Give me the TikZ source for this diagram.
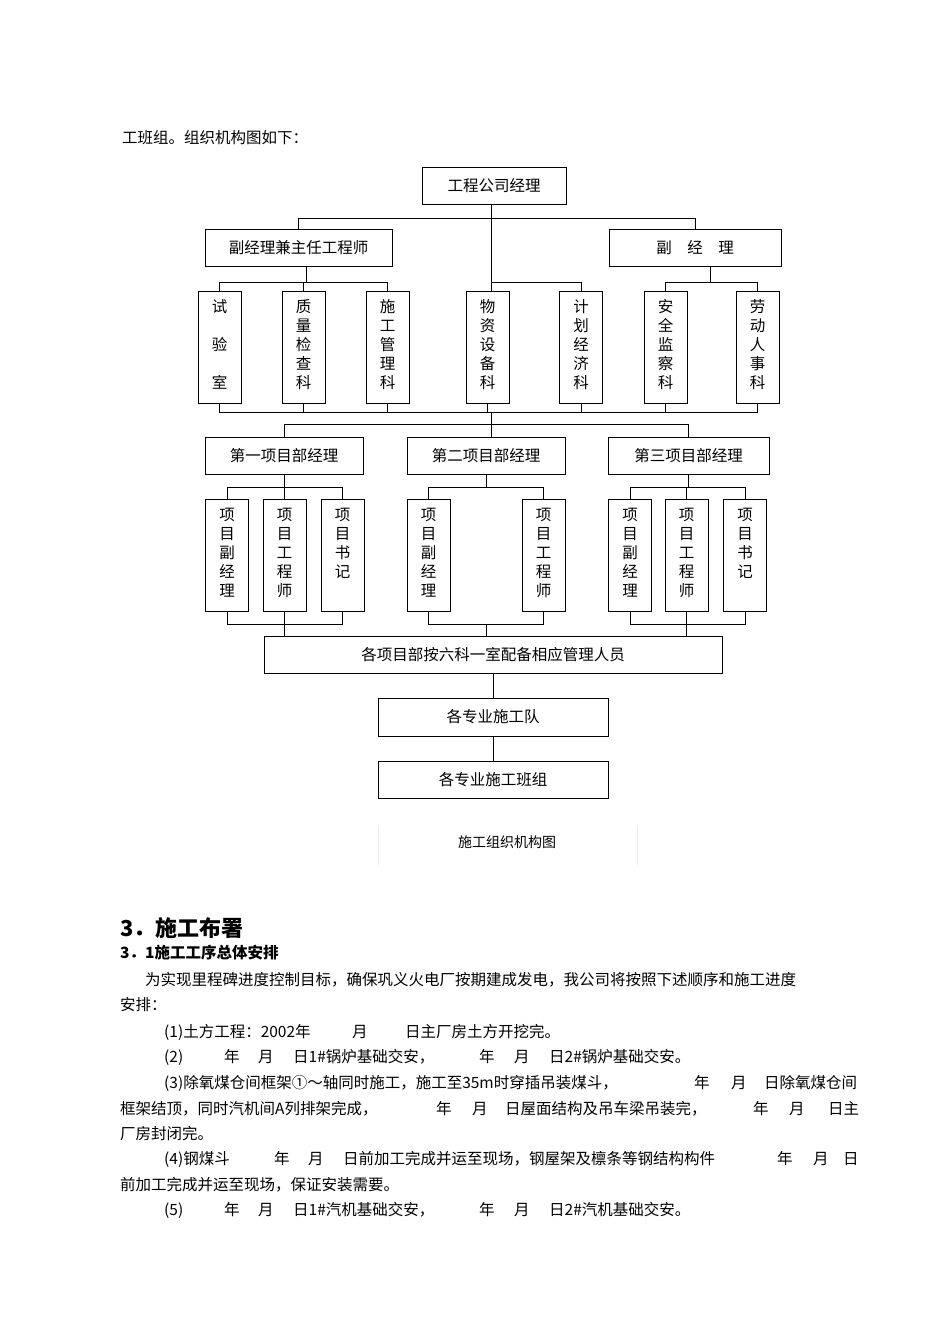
\documentclass[tikz,border=0pt]{standalone}
\usepackage{fontspec}
\setmainfont{Noto Sans CJK SC}
\begin{document}
\begin{tikzpicture}[x=1pt,y=-1pt,
  ln/.style={line width=1pt},
  box/.style={draw,line width=1pt,inner sep=0pt,font=\fontsize{15.5}{19}\selectfont},
  vbox/.style={draw,line width=1pt,inner sep=0pt,minimum width=43pt,minimum height=112pt},
  vtxt/.style={inner sep=0pt,align=center,font=\fontsize{15.5}{19}\selectfont},
  txt/.style={inner sep=0pt,anchor=base west,font=\fontsize{15.5}{18}\selectfont},
]
\useasboundingbox (0,0) rectangle (950,1344);
\newcommand\vb[4]{\node[vbox] (#1) at (#2,#3) {};\node[vtxt,anchor=north] (#1t) at ([yshift=-9pt]#1.north) {#4};}
\newcommand\tx[4]{\node[txt] (#1) at (#2,#3) {#4};}

\tx{intro}{122}{143}{工班组。组织机构图如下：}

% chart level 0-1
\node[box,minimum width=144pt,minimum height=37pt] (top) at (494,185.5) {工程公司经理};
\node[box,minimum width=187pt,minimum height=37pt] (vp1) at (298.5,247.5) {副经理兼主任工程师};
\node[box,minimum width=172pt,minimum height=37pt] (vp2) at (695,247.5) {副\hspace{1em}经\hspace{1em}理};

\vb{d1}{219.5}{347}{试\\~\\验\\~\\室}
\vb{d2}{303.5}{347}{质\\量\\检\\查\\科}
\vb{d3}{387.5}{347}{施\\工\\管\\理\\科}
\vb{d4}{487.5}{347}{物\\资\\设\\备\\科}
\vb{d5}{581}{347}{计\\划\\经\\济\\科}
\vb{d6}{665.5}{347}{安\\全\\监\\察\\科}
\vb{d7}{757.5}{347}{劳\\动\\人\\事\\科}

\coordinate (h0) at (491,218);
\draw[ln] (top.south -| h0) -- (h0 |- d4.north);
\draw[ln] (vp1.north) -- (vp1.north |- h0) -- (vp2.north |- h0) -- (vp2.north);
\coordinate (c1) at (306,282);
\coordinate (c2) at (710,282);
\draw[ln] (vp1.south -| c1) -- (c1);
\draw[ln] (d1.north) -- (d1.north |- c1) -- (d3.north |- c1) -- (d3.north);
\draw[ln] (d2.north) -- (d2.north |- c1);
\draw[ln] (vp2.south -| c2) -- (c2);
\draw[ln] (d6.north) -- (d6.north |- c2) -- (d7.north |- c2) -- (d7.north);
\draw[ln] (h0 |- c1) -- (d5.north |- c1) -- (d5.north);

% bottom of row 1
\coordinate (b1) at (491,412);
\draw[ln] (d1.south) -- (d1.south |- b1) -- (d7.south |- b1) -- (d7.south);
\foreach \n in {d2,d3,d4,d5,d6} \draw[ln] (\n.south) -- (\n.south |- b1);

% level 2
\node[box,minimum width=158pt,minimum height=37pt] (p1) at (284,455.5) {第一项目部经理};
\node[box,minimum width=158pt,minimum height=37pt] (p2) at (486,455.5) {第二项目部经理};
\node[box,minimum width=161pt,minimum height=37pt] (p3) at (688.5,455.5) {第三项目部经理};
\coordinate (b2) at (491,424);
\draw[ln] (b1) -- (b2 |- p2.north);
\draw[ln] (p1.north) -- (p1.north |- b2) -- (p3.north |- b2) -- (p3.north);

\vb{a1}{227}{555}{项\\目\\副\\经\\理}
\vb{a2}{284.5}{555}{项\\目\\工\\程\\师}
\vb{a3}{342.5}{555}{项\\目\\书\\记}
\vb{e1}{428.5}{555}{项\\目\\副\\经\\理}
\vb{e2}{543.5}{555}{项\\目\\工\\程\\师}
\vb{f1}{630}{555}{项\\目\\副\\经\\理}
\vb{f2}{686.5}{555}{项\\目\\工\\程\\师}
\vb{f3}{745}{555}{项\\目\\书\\记}

\coordinate (u) at (0,487);
\coordinate (w) at (0,624);
\draw[ln] (p1.south) -- (p1.south |- u);
\draw[ln] (a1.north) -- (a1.north |- u) -- (a3.north |- u) -- (a3.north);
\draw[ln] (a2.north) -- (a2.north |- u);
\draw[ln] (p2.south) -- (p2.south |- u);
\draw[ln] (e1.north) -- (e1.north |- u) -- (e2.north |- u) -- (e2.north);
\draw[ln] (p3.south) -- (p3.south |- u);
\draw[ln] (f1.north) -- (f1.north |- u) -- (f3.north |- u) -- (f3.north);
\draw[ln] (f2.north) -- (f2.north |- u);

\draw[ln] (a1.south) -- (a1.south |- w) -- (a3.south |- w) -- (a3.south);
\draw[ln] (e1.south) -- (e1.south |- w) -- (e2.south |- w) -- (e2.south);
\draw[ln] (f1.south) -- (f1.south |- w) -- (f3.south |- w) -- (f3.south);

\node[box,minimum width=458pt,minimum height=37pt] (all) at (493,654.5) {各项目部按六科一室配备相应管理人员};
\draw[ln] (a2.south) -- (a2.south |- all.north);
\draw[ln] (p2.south |- w) -- (p2.south |- all.north);
\draw[ln] (f2.south) -- (f2.south |- all.north);
\node[box,minimum width=230pt,minimum height=38pt] (team) at (493,717) {各专业施工队};
\node[box,minimum width=230pt,minimum height=37pt] (grp) at (493,779.5) {各专业施工班组};
\draw[ln] (all.south) -- (team.north);
\draw[ln] (team.south) -- (grp.north);

% caption
\node[inner sep=0pt,font=\fontsize{14}{16}\selectfont] (cap) at (507,842) {施工组织机构图};
\draw[gray!15,line width=0.6pt] (378,827) -- (378,865);
\draw[gray!15,line width=0.6pt] (637,827) -- (637,865);

% body text
\node[txt,font=\fontsize{22}{26}\selectfont\bfseries] (h1) at (120,936) {3．施工布署};
\node[txt,font=\fontsize{15.5}{18}\selectfont\bfseries] (h2) at (120,958) {3．1施工工序总体安排};
\tx{p1a}{145}{985}{为实现里程碑进度控制目标，确保巩义火电厂按期建成发电，我公司将按照下述顺序和施工进度}
\tx{p1b}{120}{1010}{安排：}
\tx{l1a}{164}{1037}{(1)土方工程：2002年}
\tx{l1b}{352}{1037}{月}
\tx{l1c}{405}{1037}{日主厂房土方开挖完。}
\tx{l2a}{164}{1062}{(2)}
\tx{l2b}{224}{1062}{年}
\tx{l2c}{258}{1062}{月}
\tx{l2d}{293}{1062}{日1\#锅炉基础交安，}
\tx{l2e}{479}{1062}{年}
\tx{l2f}{514}{1062}{月}
\tx{l2g}{549}{1062}{日2\#锅炉基础交安。}
\tx{l3a}{164}{1088}{(3)除氧煤仓间框架①～轴同时施工，施工至35m时穿插吊装煤斗，}
\tx{l3b}{694}{1088}{年}
\tx{l3c}{731}{1088}{月}
\tx{l3d}{764}{1088}{日除氧煤仓间}
\tx{l4a}{120}{1114}{框架结顶，同时汽机间A列排架完成，}
\tx{l4b}{436}{1114}{年}
\tx{l4c}{472}{1114}{月}
\tx{l4d}{505}{1114}{日屋面结构及吊车梁吊装完，}
\tx{l4e}{753}{1114}{年}
\tx{l4f}{789}{1114}{月}
\tx{l4g}{828}{1114}{日主}
\tx{l5}{120}{1139}{厂房封闭完。}
\tx{l6a}{164}{1164}{(4)钢煤斗}
\tx{l6b}{274}{1164}{年}
\tx{l6c}{308}{1164}{月}
\tx{l6d}{343}{1164}{日前加工完成并运至现场，钢屋架及檩条等钢结构构件}
\tx{l6e}{777}{1164}{年}
\tx{l6f}{813}{1164}{月}
\tx{l6g}{843}{1164}{日}
\tx{l7}{120}{1190}{前加工完成并运至现场，保证安装需要。}
\tx{l8a}{164}{1215}{(5)}
\tx{l8b}{224}{1215}{年}
\tx{l8c}{258}{1215}{月}
\tx{l8d}{293}{1215}{日1\#汽机基础交安，}
\tx{l8e}{479}{1215}{年}
\tx{l8f}{514}{1215}{月}
\tx{l8g}{549}{1215}{日2\#汽机基础交安。}
\end{tikzpicture}
\end{document}
